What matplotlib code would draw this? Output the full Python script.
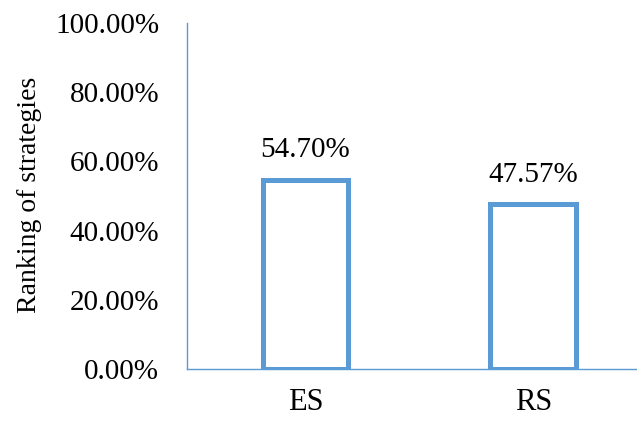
import matplotlib
matplotlib.use("Agg")
import matplotlib.pyplot as plt
from matplotlib.ticker import FuncFormatter

categories = ["ES", "RS"]
values = [54.70, 47.57]
yticks = [0, 20, 40, 60, 80, 100]

blue = "#5B9BD5"
plt.rcParams["font.family"] = ["Liberation Serif", "DejaVu Serif"]

fig = plt.figure(figsize=(6.37, 4.21), dpi=100)
ax = fig.add_axes([187 / 637, 52 / 421, 1 - 187 / 637, (369 - 23) / 421])

x = list(range(len(categories)))
ax.bar(x, values, width=0.377, facecolor="white", edgecolor=blue, linewidth=3.6)

for xi, v in zip(x, values):
    ax.annotate(f"{v:.2f}%", (xi, v), xytext=(0, 12), textcoords="offset points",
                ha="center", va="bottom", fontsize=21)

ax.set_xlim(-0.52, 1.455)
ax.set_ylim(0, 100)
ax.set_yticks(yticks)
ax.yaxis.set_major_formatter(FuncFormatter(lambda v, p: f"{v:.2f}%"))
ax.set_xticks(x)
ax.set_xticklabels(categories)
ax.tick_params(axis="y", length=0, pad=20, labelsize=21)
ax.tick_params(axis="x", length=0, pad=14, labelsize=22)

for side in ("top", "right"):
    ax.spines[side].set_visible(False)
for side in ("left", "bottom"):
    ax.spines[side].set_color(blue)
    ax.spines[side].set_linewidth(1.0)

fig.text(30 / 637, (421 - 195) / 421, "Ranking of strategies", rotation=90,
         ha="center", va="center", fontsize=20)

fig.savefig("out.png", dpi=100)
